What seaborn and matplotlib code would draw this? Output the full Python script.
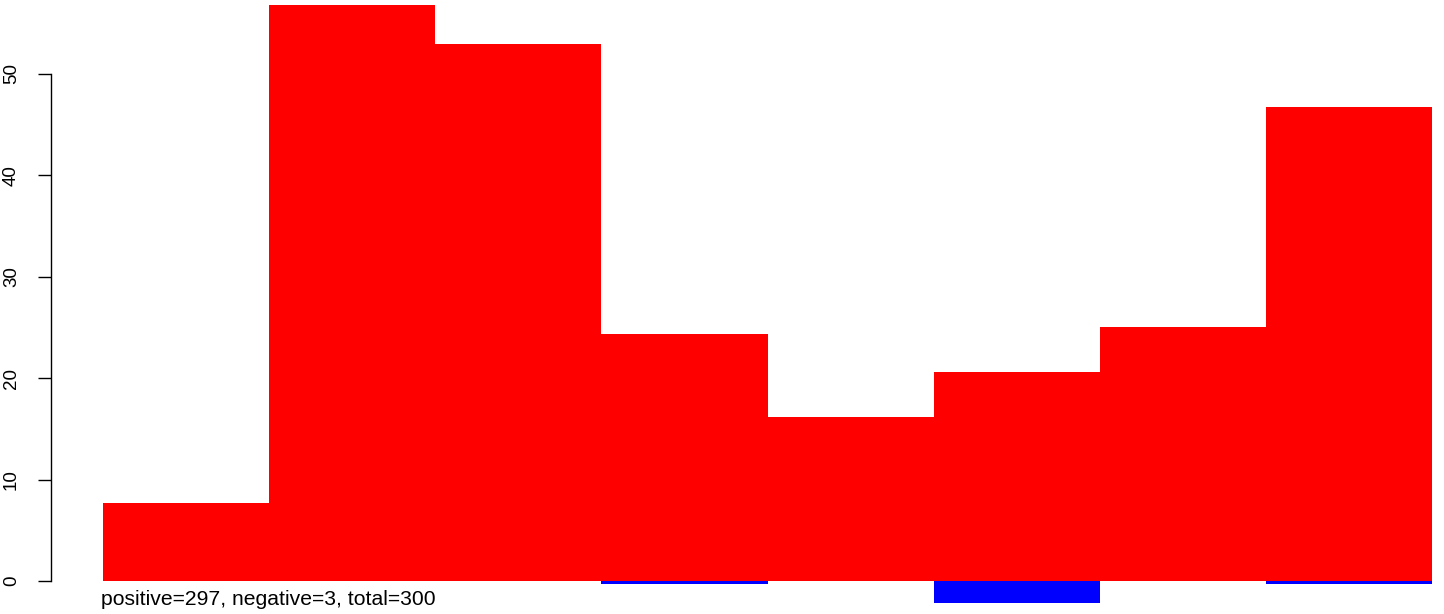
import matplotlib
matplotlib.use("Agg")
import matplotlib.pyplot as plt
import seaborn as sns
import pandas as pd

bins = ["b1", "b2", "b3", "b4", "b5", "b6", "b7", "b8"]
positive = [7.7, 56.8, 53.0, 24.4, 16.2, 20.6, 25.05, 46.7]
negative = [0.0, 0.0, 0.0, -0.3, 0.0, -2.15, 0.0, -0.3]
yticks = [0, 10, 20, 30, 40, 50]
caption = "positive=297, negative=3, total=300"

sns.set_style("white")
plt.rcParams["font.family"] = ["Liberation Sans", "DejaVu Sans"]
plt.rcParams["text.color"] = "black"
plt.rcParams["ytick.color"] = "black"
plt.rcParams["ytick.labelcolor"] = "black"

W, H = 1444, 614
PX_X = 166.1   # pixels per category
PX_Y = 10.14   # pixels per y unit
X0 = 50.5      # axis line pixel
ZERO = 581.0   # y=0 pixel row

fig = plt.figure(figsize=(W / 100, H / 100), dpi=100)
ax = fig.add_axes([X0 / W, 0, (1432 - X0) / W, 1])

df = pd.DataFrame({"bin": bins, "pos": positive, "neg": negative})
sns.barplot(data=df, x="bin", y="neg", order=bins, color="#0000FF", saturation=1,
            width=1.0, linewidth=0, ax=ax)
sns.barplot(data=df, x="bin", y="pos", order=bins, color="#FF0000", saturation=1,
            width=1.0, linewidth=0, ax=ax)

ax.set_xlim(-0.5 - (103 - X0) / PX_X, 7.5)
ax.set_ylim(-(H - ZERO) / PX_Y, ZERO / PX_Y)

for s in ["top", "right", "bottom"]:
    ax.spines[s].set_visible(False)
ax.spines["left"].set_bounds(0, 50)
ax.spines["left"].set_color("black")
ax.spines["left"].set_linewidth(1)
ax.set_xticks([])
ax.set_yticks(yticks)
ax.set_yticklabels([str(t) for t in yticks])
ax.tick_params(axis="y", left=True, length=9.4, width=1, color="black",
               labelsize=13.5, labelrotation=90, pad=12.5, labelcolor="black")
for lbl in ax.get_yticklabels():
    lbl.set_va("center")
ax.set_xlabel("")
ax.set_ylabel("")

fig.text(101 / W, 1 - 605 / H, caption, fontsize=15.2, ha="left", va="baseline",
         color="black")

fig.savefig("out.png", dpi=100)
